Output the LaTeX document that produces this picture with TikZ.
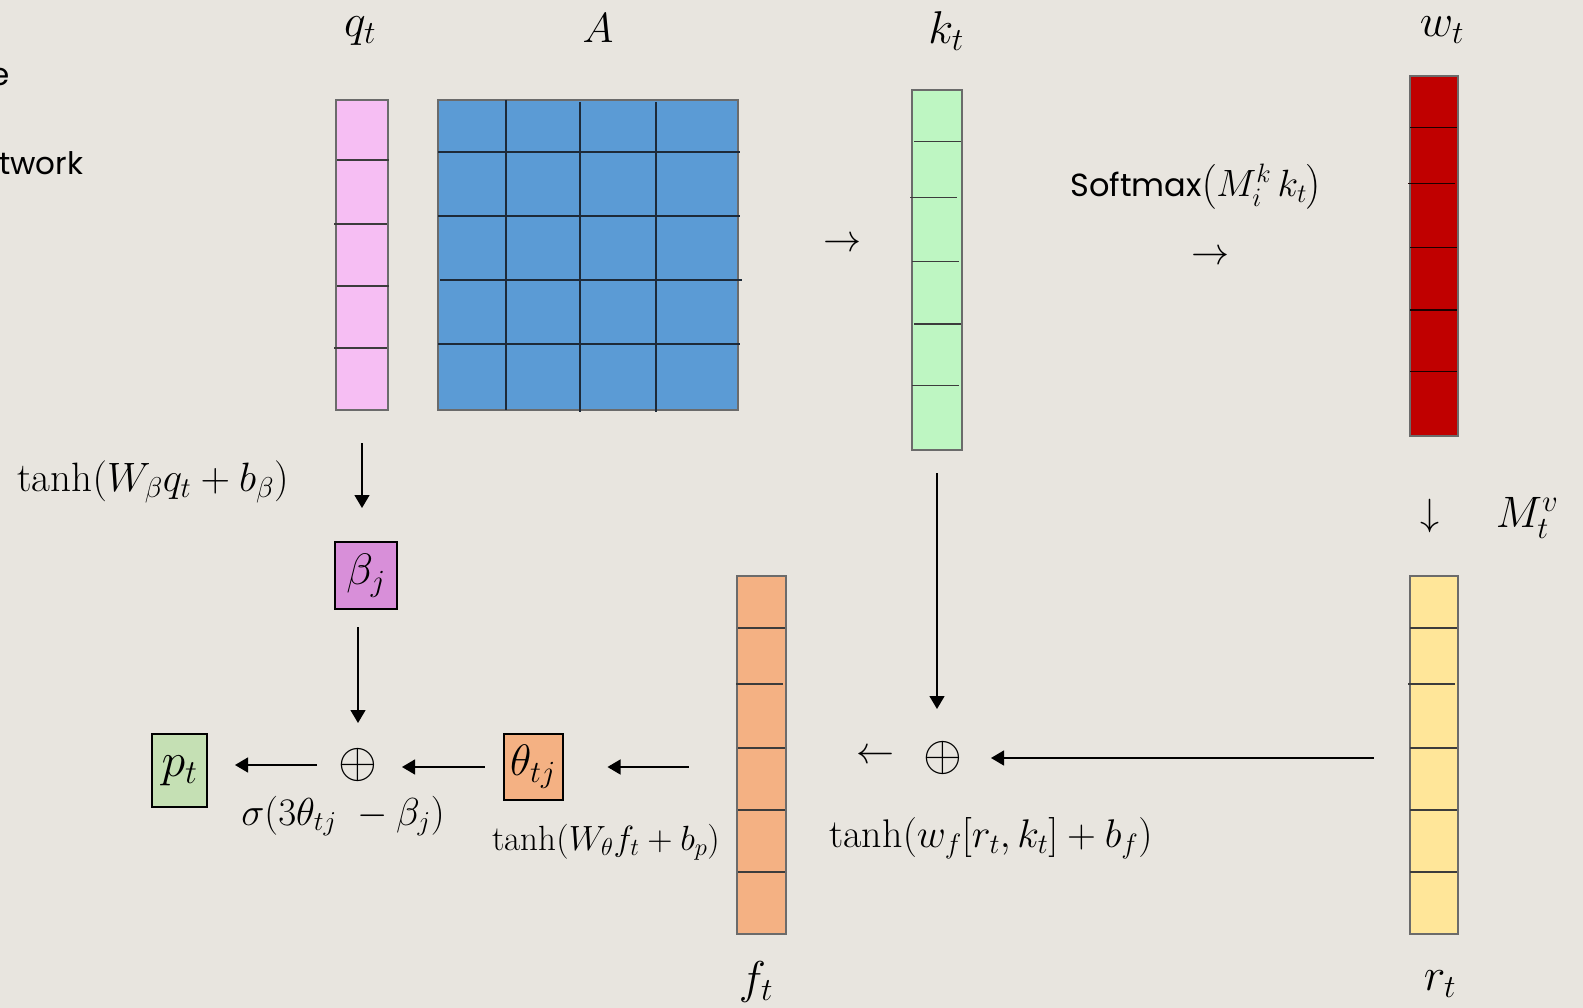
\RequirePackage{fix-cm}
\documentclass[tikz,border=0pt]{standalone}
\usepackage{fontspec}
\usepackage{amsmath}
\newfontfamily\popfont{Poppins}
\usetikzlibrary{arrows.meta}
\definecolor{bg}{HTML}{E8E5DF}
\definecolor{qpink}{HTML}{F6BEF3}
\definecolor{ablue}{HTML}{5B9BD5}
\definecolor{kgreen}{HTML}{BEF6C2}
\definecolor{wred}{HTML}{C00000}
\definecolor{ryellow}{HTML}{FFE699}
\definecolor{forange}{HTML}{F4B183}
\definecolor{pgreen}{HTML}{C5E0B4}
\definecolor{bpurple}{HTML}{D88FD9}
\definecolor{vbord}{HTML}{6B6B6B}
\definecolor{divc}{HTML}{3C3C3C}
\definecolor{gridc}{HTML}{1E2A38}
\tikzset{
  vec/.style={draw=vbord, line width=2.4pt, inner sep=0pt},
  divline/.style={draw=divc, line width=1.6pt},
  gridline/.style={draw=gridc, line width=1.8pt},
  boxnode/.style={draw=black, line width=2pt, inner sep=0pt},
  arr/.style={-{Triangle[length=13pt,width=15pt]}, line width=1.4pt},
  mlab/.style={font=\fontsize{46}{48}\selectfont, inner sep=0pt},
  tarr/.style={font=\fontsize{38}{40}\selectfont, inner sep=0pt},
  opl/.style={font=\fontsize{50}{52}\selectfont, inner sep=0pt},
  sanstext/.style={font=\fontsize{31}{34}\selectfont\popfont, inner sep=0pt},
}
\begin{document}
\begin{tikzpicture}[x=1pt,y=-1pt]
\useasboundingbox (0,0) rectangle (1583,1008);
\fill[bg] (0,0) rectangle (1583,1008);

% text fragments cut by the left edge, as in the reference
\begin{scope}
\clip (0,0) rectangle (1583,1008);
\node[sanstext, anchor=base east] (tE) at (10,86) {e};
\node[sanstext, anchor=base west] (tNet) at (-1,175) {twork};
\end{scope}

% vectors and matrix
\node[vec, fill=qpink, minimum width=52pt, minimum height=310pt] (q) at (362,255) {};
\node[vec, fill=ablue, minimum width=300pt, minimum height=310pt] (A) at (588,255) {};
\node[vec, fill=kgreen, minimum width=50pt, minimum height=360pt] (k) at (937,270) {};
\node[vec, fill=wred, minimum width=48pt, minimum height=360pt] (w) at (1434,256) {};
\node[vec, fill=ryellow, minimum width=48pt, minimum height=358pt] (r) at (1434,755) {};
\node[vec, fill=forange, minimum width=49pt, minimum height=358pt] (f) at (761.5,755) {};

% dividers
\draw[divline] (337,160) -- (389,160);
\draw[divline] (334,224) -- (387,224);
\draw[divline] (337,286) -- (389,286);
\draw[divline] (334,348) -- (387,348);

\draw[gridline] (438,151.7) -- (740,151.7);
\draw[gridline] (438,215.7) -- (740,215.7);
\draw[gridline] (440,280) -- (742,280);
\draw[gridline] (438,344) -- (740,344);
\draw[gridline] (505.7,100) -- (505.7,410);
\draw[gridline] (580,102) -- (580,412);
\draw[gridline] (656,102) -- (656,412);

\draw[divline] (914,141.7) -- (961,141.7);
\draw[divline] (910,197.7) -- (957,197.7);
\draw[divline] (912,261.7) -- (959,261.7);
\draw[divline] (914,324) -- (961,324);
\draw[divline] (912,385.7) -- (959,385.7);

\draw[divline, draw=black!85!wred] (1410,127.7) -- (1457,127.7);
\draw[divline, draw=black!85!wred] (1408,183.7) -- (1455,183.7);
\draw[divline, draw=black!85!wred] (1410,247.7) -- (1457,247.7);
\draw[divline, draw=black!85!wred] (1410,310) -- (1457,310);
\draw[divline, draw=black!85!wred] (1410,371.7) -- (1457,371.7);

\foreach \yy/\xa/\xb in {628/1410/1457, 684/1408/1455, 747.7/1410/1457, 809.7/1410/1457, 871.7/1410/1457}{
  \draw[divline] (\xa,\yy) -- (\xb,\yy);
}
\foreach \yy/\xa/\xb in {628/738/785, 684/736/783, 747.7/738/785, 809.7/738/785, 871.7/738/785}{
  \draw[divline] (\xa,\yy) -- (\xb,\yy);
}

% small boxes
\node[boxnode, fill=bpurple, minimum width=62pt, minimum height=67pt, font=\fontsize{44}{46}\selectfont] (beta) at (366,575.5) {$\beta_j$};
\node[boxnode, fill=forange, minimum width=59pt, minimum height=66pt, font=\fontsize{44}{46}\selectfont] (theta) at (533,767) {$\theta_{tj}$};
\node[boxnode, fill=pgreen, minimum width=55pt, minimum height=73pt, font=\fontsize{48}{50}\selectfont] (p) at (179.5,770.5) {$p_t$};

% combination nodes
\node[opl] (plus1) at (358,765) {$\oplus$};
\node[opl] (plus2) at (943,758) {$\oplus$};

% labels
\node[mlab] (lq) at (360,31) {$q_t$};
\node[mlab, font=\fontsize{42}{44}\selectfont] (lA) at (598,28) {$A$};
\node[mlab] (lk) at (946,31) {$k_t$};
\node[mlab] (lw) at (1442,30) {$w_t$};
\node[mlab] (lf) at (756,982) {$f_t$};
\node[mlab] (lr) at (1440,984) {$r_t$};
\node[mlab, font=\fontsize{44}{46}\selectfont] (lM) at (1527,518) {$M_t^v$};

% text arrows
\node[tarr] (ta1) at (842,245) {$\rightarrow$};
\node[tarr] (ta2) at (1210,258) {$\rightarrow$};
\node[tarr] (ta3) at (875,757) {$\leftarrow$};
\node[tarr] (ta4) at (1430,516) {$\downarrow$};

% formulas
\node[inner sep=0pt, font=\fontsize{38}{40}\selectfont] (fsoft) at (1196,187) {{\fontsize{32}{36}\popfont Softmax}$\left(M_i^k\,k_t\right)$};
\node[inner sep=0pt, font=\fontsize{41}{44}\selectfont] (fbeta) at (153,482) {$\mathrm{tanh}{\left(W_\beta q_t + b_\beta\right)}$};
\node[inner sep=0pt, font=\fontsize{39}{42}\selectfont] (fsig) at (343,816) {$\sigma{\left(3\theta_{tj}\ -\beta_j\right)}$};
\node[inner sep=0pt, font=\fontsize{35}{38}\selectfont] (ftheta) at (606,842) {$\mathrm{tanh}{\left(W_\theta f_t + b_p\right)}$};
\node[inner sep=0pt, font=\fontsize{40}{43}\selectfont] (ff) at (991,838) {$\mathrm{tanh}{\left(w_f[r_t,k_t]+b_f\right)}$};

% connectors
\draw[arr, shorten <=32pt, shorten >=33pt] (q.south) -- (q.south |- beta.north);
\draw[arr, shorten <=17pt, shorten >=42pt] (beta.south -| plus1.center) -- (plus1.center);
\draw[arr, shorten <=41pt, shorten >=27pt] (plus1.center) -- (plus1.center -| p.east);
\draw[arr, shorten <=18pt, shorten >=44pt] (theta.west) -- (theta.west -| plus1.center);
\draw[arr, shorten <=47pt, shorten >=44pt] (f.west |- theta.east) -- (theta.east);
\draw[arr, shorten <=22pt, shorten >=49pt] (k.south) -- (k.south |- plus2.center);
\draw[arr, shorten <=35pt, shorten >=48pt] (r.west |- plus2.center) -- (plus2.center);
\end{tikzpicture}
\end{document}
